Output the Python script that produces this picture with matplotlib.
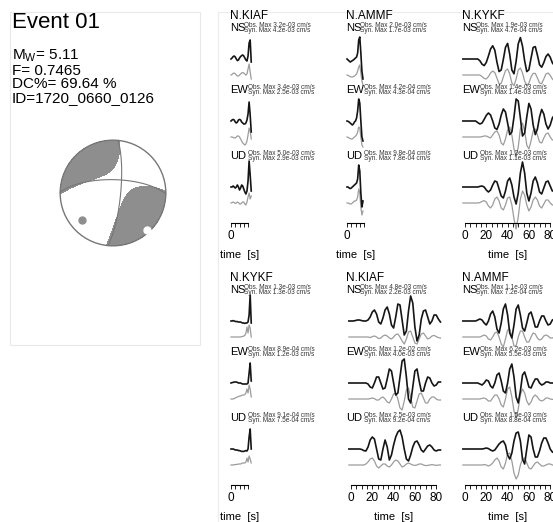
import numpy as np
import matplotlib.pyplot as plt
from matplotlib import font_manager
from matplotlib.patches import Rectangle, Circle
from matplotlib.ticker import MultipleLocator, FixedLocator

plt.rcParams['font.family'] = ['Liberation Sans', 'DejaVu Sans']
plt.rcParams['mathtext.fontset'] = 'custom'
plt.rcParams['mathtext.rm'] = 'Liberation Sans'
installed = {f.name for f in font_manager.fontManager.ttflist}
narrow = 'Liberation Sans Narrow' if 'Liberation Sans Narrow' in installed else 'Liberation Sans'

# ---- event summary
event_title = "Event 01"
mw = "5.11"
f_value = "0.7465"
dc_percent = "69.64"
event_id = "1720_0660_0126"

t_axis = (137, 6)
p_axis = (231, 23)
eigenvalues = (1.0, -0.152, -0.848)  # T, B, P

# ---- station blocks (row-major: top row then bottom row)
stations = ["N.KIAF", "N.AMMF", "N.KYKF", "N.KYKF", "N.KIAF", "N.AMMF"]
components = ["NS", "EW", "UD"]
obs_max = [["3.2e-03", "3.4e-03", "5.0e-03"],
           ["2.0e-03", "4.2e-04", "9.8e-04"],
           ["1.9e-03", "1.4e-03", "1.2e-03"],
           ["1.3e-03", "8.9e-04", "9.1e-04"],
           ["4.8e-03", "1.2e-02", "2.5e-03"],
           ["1.1e-03", "6.2e-03", "1.5e-03"]]
syn_max = [["4.2e-03", "2.5e-03", "2.9e-03"],
           ["1.7e-03", "4.3e-04", "7.8e-04"],
           ["4.7e-04", "1.4e-03", "1.1e-03"],
           ["1.3e-03", "1.2e-03", "7.5e-04"],
           ["2.2e-03", "4.0e-03", "9.2e-04"],
           ["7.2e-04", "5.5e-03", "8.8e-04"]]

# sampling of the traces: short windows every 1 s from 0 s, long windows every 2 s from -2 s
short_dt, long_dt = 1.0, 2.0
long_t0 = -2.0

# block 1: N.KIAF (short)
b1_obs = [[0, 0.05, 0.12, 0.15, 0.1, 0.0, -0.08, -0.05, 0.05, 0.12, 0.17, 0.2, 0.15, 0.05, -0.05, -0.1, 0.15, 0.8, 0.95, -0.15],
          [0, 0.05, 0.08, 0.05, -0.05, -0.1, -0.05, 0.05, 0.08, 0.05, -0.05, -0.1, -0.15, -0.15, -0.1, 0.05, 0.35, 0.95, 0.3, -0.55],
          [0, 0.0, 0.05, 0.0, -0.05, 0.0, 0.1, 0.0, -0.15, -0.05, 0.1, 0.05, -0.1, -0.25, -0.35, -0.2, 0.3, 1.3, 0.6, -0.2]]
b1_syn = [[0, 0.03, 0.08, 0.1, 0.06, 0.0, -0.05, -0.05, 0.0, 0.05, 0.1, 0.12, 0.1, 0.05, 0.0, 0.05, 0.3, 0.55, 0.15, -0.2],
          [0, 0.0, -0.02, -0.05, -0.05, 0.0, 0.05, 0.05, 0.0, -0.1, -0.2, -0.3, -0.35, -0.4, -0.35, -0.2, 0.1, 0.45, 0.3, -0.1],
          [0, 0.02, 0.05, 0.02, -0.02, 0.0, 0.05, 0.02, -0.05, -0.05, 0.0, 0.05, 0.05, -0.05, -0.1, 0.05, 0.3, 0.5, 0.2, 0.35]]

# block 2: N.AMMF (short)
b2_obs = [[0, -0.05, -0.1, -0.15, -0.12, -0.08, -0.05, 0.0, 0.05, 0.1, 0.3, 0.95, 1.1, 0.3, -0.6, -1.0],
          [0, -0.02, -0.05, -0.1, -0.15, -0.2, -0.15, -0.05, 0.0, 0.15, 0.5, 1.1, 0.9, 0.0, -0.8, -1.0],
          [0, 0.0, -0.05, -0.08, -0.05, 0.0, 0.05, 0.1, 0.15, 0.2, 0.4, 1.1, 0.8, -0.3, -1.0, -0.7]]
b2_syn = [[0, -0.02, -0.05, -0.08, -0.1, -0.1, -0.08, -0.05, 0.0, 0.05, 0.2, 0.4, 0.5, 0.1, -0.3, -0.5],
          [0, -0.02, -0.05, -0.08, -0.1, -0.1, -0.05, 0.0, 0.05, 0.1, 0.25, 0.5, 0.45, 0.0, -0.4, -0.5],
          [0, 0.0, -0.02, -0.05, -0.05, 0.0, 0.05, 0.1, 0.1, 0.15, 0.3, 0.7, 0.5, -0.2, -0.6, -0.4]]

# block 3: N.KYKF (long)
b3_obs = [[0, 0, 0, 0, 0, 0, 0, 0, -0.09, -0.26, -0.33, -0.17, 0.15, 0.5, 0.66, 0.44, -0.16, -0.63, -0.55, -0.02, 0.58, 0.78,
           0.23, -0.55, -0.74, -0.11, 0.76, 1.07, 0.64, -0.09, -0.63, -0.54, 0.04, 0.58, 0.62, 0.19, -0.29, -0.41, -0.18, 0.12,
           0.25, 0.09, -0.19, -0.33],
          [0, 0, 0, 0, 0, 0, 0, -0.08, -0.15, -0.1, 0.08, 0.28, 0.4, 0.3, 0.0, -0.35, -0.42, -0.15, 0.3, 0.6, 0.45, -0.1,
           -0.68, -0.55, 0.2, 1.1, 1.0, 0.15, -0.75, -0.6, 0.2, 0.88, 0.6, -0.2, -0.68, -0.4, 0.2, 0.58, 0.35, -0.15, -0.4,
           -0.2, 0.15, 0.3],
          [0, 0, 0, 0, 0, 0, 0, 0, 0.03, 0.05, 0.0, -0.15, -0.25, -0.15, 0.1, 0.3, 0.25, -0.1, -0.45, -0.55, -0.2, 0.3,
           0.45, 0.1, -0.5, -0.85, -0.3, 0.7, 1.25, 0.7, -0.3, -0.7, -0.3, 0.3, 0.5, 0.2, -0.25, -0.35, -0.05, 0.25, 0.3,
           0.05, -0.2, -0.2]]
b3_syn = [[0, 0, 0, 0, 0, 0, 0, 0, 0, -0.08, -0.17, -0.2, -0.08, 0.1, 0.2, 0.12, -0.15, -0.45, -0.42, -0.1, 0.22, 0.3,
           0.05, -0.4, -0.54, -0.2, 0.25, 0.35, 0.1, -0.3, -0.53, -0.4, -0.1, 0.08, 0.08, -0.15, -0.4, -0.43, -0.2, 0.05,
           0.1, -0.02, -0.2, -0.3],
          [0, 0, 0, 0, 0, 0, 0, 0, 0, 0.02, 0.05, 0.05, 0.0, -0.05, 0.1, 0.25, 0.3, 0.1, -0.3, -0.4, -0.1, 0.35, 0.5, 0.1,
           -0.6, -1.0, -0.5, 0.4, 0.7, 0.3, -0.4, -0.6, -0.2, 0.3, 0.4, 0.1, -0.25, -0.3, -0.05, 0.15, 0.2, 0.0, -0.15,
           -0.15],
          [0, 0, 0, 0, 0, 0, 0, 0, 0.02, 0.08, 0.12, 0.05, -0.15, -0.25, -0.1, 0.2, 0.3, 0.1, -0.25, -0.35, -0.1, 0.25,
           0.3, -0.1, -0.8, -1.3, -0.7, 0.2, 0.6, 0.4, -0.1, -0.4, -0.2, 0.15, 0.3, 0.15, -0.15, -0.25, -0.05, 0.15, 0.15,
           0.0, -0.1, -0.1]]

# block 4: N.KYKF (short)
b4_obs = [[0, 0.0, 0.02, 0.0, -0.02, -0.03, -0.03, -0.05, -0.05, -0.05, -0.08, -0.1, -0.1, -0.12, -0.1, -0.1, -0.05, 0.3, 1.3, -0.1],
          [0, 0.02, 0.03, 0.05, 0.05, 0.05, 0.03, 0.0, 0.0, 0.0, -0.03, -0.05, -0.05, -0.05, -0.05, -0.05, 0.0, 0.5, 1.0, 0.1],
          [0, 0.0, 0.0, -0.02, -0.05, -0.05, -0.05, -0.08, -0.08, -0.1, -0.12, -0.12, -0.12, -0.1, -0.08, -0.1, 0.0, 0.6, 1.0, 0.0]]
b4_syn = [[0, 0.0, 0.0, 0.0, 0.0, 0.0, 0.0, 0.0, 0.0, 0.0, 0.02, 0.03, 0.05, 0.08, 0.2, 0.5, 0.2, 0.6, 0.45, 0.0],
          [0, 0.0, 0.0, 0.02, 0.05, 0.08, 0.1, 0.12, 0.15, 0.15, 0.18, 0.2, 0.2, 0.22, 0.3, 0.5, 0.3, 0.7, 0.5, 0.1],
          [0, 0.0, 0.0, 0.02, 0.02, 0.03, 0.03, 0.05, 0.05, 0.05, 0.08, 0.1, 0.1, 0.1, 0.15, 0.35, 0.15, 0.45, 0.3, 0.1]]

# block 5: N.KIAF (long)
b5_obs = [[0, 0, 0, 0.02, 0.05, 0.05, 0.02, 0, 0, 0.05, 0.2, 0.45, 0.55, 0.35, -0.05, -0.15, 0.15, 0.55, 0.7, 0.35, -0.2,
           -0.35, 0.2, 0.85, 0.8, 0.05, -0.7, -0.5, 0.5, 1.25, 0.9, -0.3, -1.0, -0.7, 0.1, 0.5, 0.55, 0.2, -0.15, 0.0, 0.3,
           0.3, 0.1, -0.05],
          [0, 0, 0, 0, 0, 0, 0, 0, 0, -0.05, -0.2, -0.25, 0.0, 0.3, 0.3, 0.0, -0.3, -0.25, 0.2, 0.7, 0.6, 0.0, -0.6, -0.5,
           0.3, 1.1, 1.2, 0.3, -0.8, -1.0, -0.2, 0.6, 0.7, 0.1, -0.4, -0.4, 0.0, 0.3, 0.25, 0.0, -0.15, -0.1, 0.05, 0.05],
          [0, 0, 0, 0, 0, 0, -0.02, -0.08, -0.1, 0.1, 0.45, 0.6, 0.5, 0.0, -0.5, -0.55, 0.0, 0.45, 0.1, -0.55, -0.3, 0.2,
           0.6, 0.85, 0.95, 0.6, 0.0, -0.5, -0.6, -0.3, 0.1, 0.35, 0.4, 0.2, -0.05, -0.15, 0.0, 0.15, 0.2, 0.1, -0.05, -0.1,
           -0.05, -0.05]]
b5_syn = [[0, 0, 0, 0, 0, 0, 0, 0, 0, 0, -0.03, 0.02, 0.05, 0.0, -0.08, -0.05, 0.05, 0.1, 0.05, -0.05, -0.1, 0.0, 0.12,
           0.15, 0.0, -0.2, -0.35, -0.1, 0.25, 0.3, 0.0, -0.3, -0.35, -0.1, 0.15, 0.2, 0.05, -0.1, -0.05, 0.05, 0.08,
           0.02, -0.03, -0.05],
          [0, 0, 0, 0, 0, 0, 0, 0, 0, 0, 0.02, 0.05, 0.02, -0.05, -0.05, 0.05, 0.1, 0.0, -0.15, -0.2, 0.0, 0.25, 0.3, 0.0,
           -0.45, -0.55, -0.1, 0.45, 0.55, 0.1, -0.4, -0.45, -0.1, 0.25, 0.3, 0.05, -0.2, -0.2, 0.0, 0.1, 0.1, 0.0, -0.05,
           -0.05],
          [0, 0, 0, 0, 0, 0, 0, 0, 0.05, 0.15, 0.3, 0.35, 0.2, -0.05, -0.15, -0.05, 0.05, 0.05, -0.05, -0.1, 0.0, 0.15,
           0.25, 0.2, 0.05, -0.1, -0.05, 0.05, 0.1, 0.05, 0.0, -0.02, 0.0, 0.05, 0.05, 0.0, -0.03, -0.02, 0.0, 0.02, 0.0,
           -0.02, 0.0, 0.0]]

# block 6: N.AMMF (long)
b6_obs = [[0, 0, 0, 0, 0, 0, 0, 0.05, 0.1, 0.05, -0.1, -0.2, 0.0, 0.35, 0.5, 0.2, -0.4, -0.6, -0.1, 0.6, 0.85, 0.3,
           -0.6, -0.85, -0.2, 0.6, 0.8, 0.3, -0.35, -0.5, -0.1, 0.35, 0.45, 0.1, -0.3, -0.3, 0.0, 0.25, 0.25, 0.0, -0.2,
           -0.15, 0.05, 0.1],
          [0, 0, 0, 0, 0, 0, 0, 0, -0.05, -0.1, 0.0, 0.15, 0.1, -0.15, -0.25, 0.0, 0.4, 0.5, 0.1, -0.4, -0.5, 0.0, 0.7,
           0.95, 0.3, -0.7, -1.0, -0.4, 0.4, 0.55, 0.2, -0.2, -0.25, 0.0, 0.2, 0.2, 0.0, -0.1, -0.05, 0.05, 0.05, 0.0, 0.0,
           0.0],
          [0, 0, 0, 0, 0, 0, 0, 0, 0, 0, 0.02, 0.05, 0.02, -0.05, -0.1, -0.05, 0.1, 0.25, 0.35, 0.4, 0.2, -0.3, -0.5,
           -0.2, 0.4, 0.8, 0.85, 0.4, -0.5, -0.75, 0.0, 0.7, 0.6, 0.0, -0.4, -0.4, -0.1, 0.3, 0.55, 0.55, 0.3, 0.0, -0.15,
           -0.2]]
b6_syn = [[0, 0, 0, 0, 0, 0, 0, 0, 0, 0.05, 0.1, 0.05, -0.1, -0.15, 0.0, 0.2, 0.25, 0.0, -0.35, -0.5, -0.1, 0.35, 0.4,
           0.0, -0.45, -0.45, 0.0, 0.3, 0.3, 0.0, -0.25, -0.25, 0.0, 0.2, 0.15, -0.05, -0.15, -0.1, 0.05, 0.1, 0.05, -0.05,
           -0.05, 0.0],
          [0, 0, 0, 0, 0, 0, 0, 0, 0, 0.03, 0.05, 0.0, -0.1, -0.1, 0.05, 0.2, 0.2, 0.0, -0.3, -0.4, 0.0, 0.5, 0.6, 0.1,
           -0.6, -0.95, -0.5, 0.2, 0.5, 0.3, -0.1, -0.3, -0.15, 0.1, 0.2, 0.1, -0.05, -0.1, -0.05, 0.05, 0.05, 0.0, -0.02,
           0.0],
          [0, 0, 0, 0, 0, 0, 0, 0, 0, 0, 0.02, 0.0, -0.05, 0.0, 0.1, 0.25, 0.35, 0.2, -0.1, -0.2, 0.1, 0.55, 0.6, 0.2,
           -0.4, -0.7, -0.5, 0.0, 0.3, 0.35, 0.1, -0.15, -0.2, -0.05, 0.1, 0.15, 0.05, -0.05, -0.05, 0.0, 0.05, 0.05, 0.0,
           0.0]]

all_obs = [b1_obs, b2_obs, b3_obs, b4_obs, b5_obs, b6_obs]
all_syn = [b1_syn, b2_syn, b3_syn, b4_syn, b5_syn, b6_syn]
long_window = [False, False, True, False, True, True]

# ---- layout (pixels)
W, H = 553, 522
PX_PER_S = 1.065
AMP = 20.0
block_x = [231, 347, 465, 231, 351, 465]   # where t = 0 sits
label_x = [230, 346, 462, 230, 346, 462]
row_y = [0, 262]
label_y = [28, 90, 156]
obs_off, syn_off = 31, 47
axis_y, time_label_y = 222, 255

fig = plt.figure(figsize=(W / 100, H / 100), dpi=100)


def px_axes(x, y, w, h):
    return fig.add_axes([x / W, 1 - (y + h) / H, w / W, h / H])


bg = px_axes(0, 0, W, H)
bg.set_xlim(0, W)
bg.set_ylim(H, 0)
bg.axis('off')
bg.add_patch(Rectangle((10, 12), 190, 333, fill=False, ec='#e8e8e8', lw=0.8))
bg.plot([218, 218, W], [H, 12, 12], color='#ececec', lw=0.8)

bg.text(12, 22, event_title, fontsize=16, va='center')
bg.text(12, 56, r"M$_\mathregular{W}$= " + mw, fontsize=11, va='center')
bg.text(12, 71, "F= " + f_value, fontsize=11, va='center')
bg.text(12, 84.5, "DC%= " + dc_percent + " %", fontsize=11, va='center')
bg.text(12, 98, "ID=" + event_id, fontsize=11, va='center')


# ---- beachball (lower hemisphere, equal area)
def axis_vec(az, pl):
    az, pl = np.radians(az), np.radians(pl)
    return np.array([np.cos(pl) * np.cos(az), np.cos(pl) * np.sin(az), np.sin(pl)])


def project(v):
    v = v if v[2] >= 0 else -v
    inc = np.arccos(np.clip(v[2], -1, 1))
    az = np.arctan2(v[1], v[0])
    r = np.sqrt(2) * np.sin(inc / 2)
    return r * np.sin(az), r * np.cos(az)


tv = axis_vec(*t_axis)
pv = axis_vec(*p_axis)
pv = pv - pv.dot(tv) * tv
pv /= np.linalg.norm(pv)
bv = np.cross(tv, pv)
M = (eigenvalues[0] * np.outer(tv, tv) + eigenvalues[1] * np.outer(bv, bv)
     + eigenvalues[2] * np.outer(pv, pv))

ax_bb = px_axes(113 - 56, 193 - 56, 112, 112)
ax_bb.set_xlim(-1.06, 1.06)
ax_bb.set_ylim(-1.06, 1.06)
ax_bb.set_aspect('equal')
ax_bb.axis('off')

g = np.linspace(-1, 1, 501)
X, Y = np.meshgrid(g, g)
R = np.hypot(X, Y)
inc = 2 * np.arcsin(np.clip(R / np.sqrt(2), 0, 1))
az = np.arctan2(X, Y)
D = np.stack([np.sin(inc) * np.cos(az), np.sin(inc) * np.sin(az), np.cos(inc)])
amp = np.einsum('i...,ij,j...->...', D, M, D)
amp = np.ma.masked_where(R > 1, amp)
ax_bb.contourf(X, Y, amp, levels=[0, amp.max() + 1], colors=['#8e8e8e'])

for n in [(tv + pv) / np.sqrt(2), (tv - pv) / np.sqrt(2)]:
    u = np.cross(n, [0, 0, 1.0])
    u /= np.linalg.norm(u)
    w = np.cross(n, u)
    if w[2] < 0:
        w = -w
    th = np.linspace(0, np.pi, 200)
    pts = np.array([project(np.cos(a) * u + np.sin(a) * w) for a in th])
    ax_bb.plot(pts[:, 0], pts[:, 1], color='#777777', lw=0.8)

ax_bb.add_patch(Circle((0, 0), 1, fill=False, ec='#777777', lw=1.0))
px_, py_ = project(pv)
tx_, ty_ = project(tv)
ax_bb.plot(px_, py_, 'o', ms=5, mfc='#8e8e8e', mec='#8e8e8e')
ax_bb.plot(tx_, ty_, 'o', ms=5, mfc='white', mec='white')

# ---- waveform blocks
for i in range(6):
    x0 = block_x[i]
    y0 = row_y[i // 3]
    ax = px_axes(x0 - 20, y0, 140, 262)
    ax.set_xlim(-20 / PX_PER_S, 120 / PX_PER_S)
    ax.set_ylim(262, 0)
    ax.axis('off')
    lx = (label_x[i] - x0) / PX_PER_S
    ax.text(lx, 16, stations[i], fontsize=8.5, va='center', ha='left')
    for k, comp in enumerate(components):
        ly = label_y[k]
        ax.text(lx, ly, comp, fontsize=8, family=narrow, va='center', ha='left')
        sx = lx + (14.5 if comp == "NS" else 18) / PX_PER_S
        ax.text(sx, ly - 2.9, "Obs. Max " + obs_max[i][k] + " cm/s", fontsize=4.7, va='center', color='#333333')
        ax.text(sx, ly + 2.9, "Syn. Max " + syn_max[i][k] + " cm/s", fontsize=4.7, va='center', color='#333333')
        obs = np.array(all_obs[i][k])
        syn = np.array(all_syn[i][k])
        if long_window[i]:
            t = long_t0 + long_dt * np.arange(len(obs))
        else:
            t = short_dt * np.arange(len(obs))
        ax.plot(t, ly + syn_off - AMP * syn, color='#9c9c9c', lw=0.9)
        ax.plot(t, ly + obs_off - AMP * obs, color='#151515', lw=1.2)

    length = 80 if long_window[i] else 16
    ax_t = px_axes(x0, y0 + axis_y, length * PX_PER_S, 1)
    ax_t.set_xlim(0, length)
    ax_t.set_facecolor('none')
    for s in ['left', 'right', 'top']:
        ax_t.spines[s].set_visible(False)
    ax_t.spines['bottom'].set_linewidth(0.8)
    ax_t.set_yticks([])
    if long_window[i]:
        ax_t.xaxis.set_major_locator(MultipleLocator(20))
        ax_t.xaxis.set_minor_locator(MultipleLocator(5))
    else:
        ax_t.xaxis.set_major_locator(FixedLocator([0]))
        ax_t.xaxis.set_minor_locator(MultipleLocator(4))
    ax_t.tick_params(axis='x', which='both', direction='out', length=3, width=0.6,
                     labelsize=8.5, pad=2)
    bg.text(x0 + length * PX_PER_S / 2, y0 + time_label_y, "time  [s]", fontsize=8, ha='center', va='center')

fig.savefig("out.png", dpi=100)
